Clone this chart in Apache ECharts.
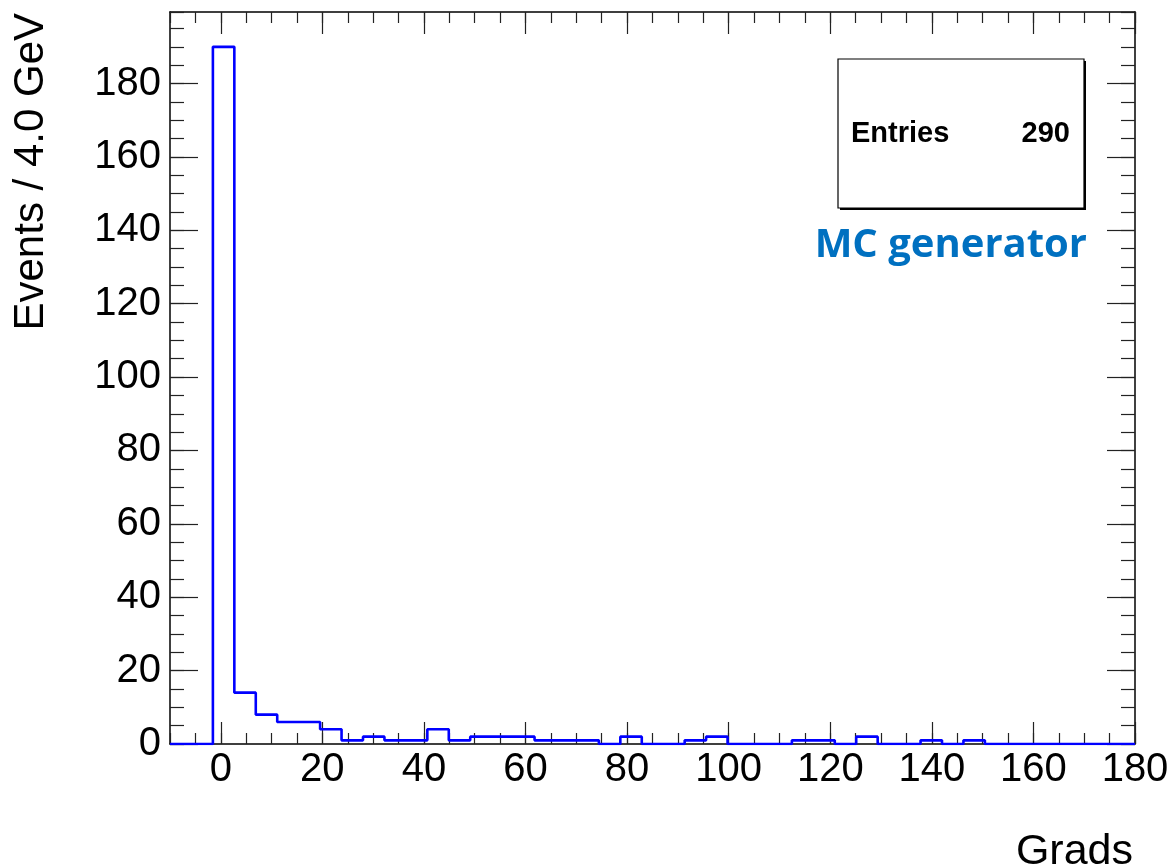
<!DOCTYPE html>
<html>
<head>
<meta charset="utf-8">
<title>Grads</title>
<script src="https://cdn.jsdelivr.net/npm/echarts@6/dist/echarts.min.js"></script>
<style>
  html, body { margin: 0; padding: 0; background: #fff; }
  #chart { width: 1176px; height: 867px; }
</style>
</head>
<body>
<div id="chart"></div>
<script>
// Histogram binning: 45 equal bins spanning the x range
const xMin = -10;
const xMax = 180;
const nBins = 45;
const yMax = 199.5;

// Events per bin
const binCounts = [
  0, 0, 190, 14, 8, 6, 6, 4, 1, 2,
  1, 1, 4, 1, 2, 2, 2, 1, 1, 1,
  0, 2, 0, 0, 1, 2, 0, 0, 0, 1,
  1, 0, 2, 0, 0, 1, 0, 1, 0, 0,
  0, 0, 0, 0, 0
];

const entries = 290;

// Labelled tick positions
const xTickValues = [0, 20, 40, 60, 80, 100, 120, 140, 160, 180];
const yTickValues = [0, 20, 40, 60, 80, 100, 120, 140, 160, 180];
const minorStep = 5;

const xTitle = 'Grads';
const yTitle = 'Events / 4.0 GeV';
const legendText = 'MC generator';

// Step outline: one point per left bin edge, plus the closing right edge
const binWidth = (xMax - xMin) / nBins;
const outline = binCounts.map((c, i) => [xMin + i * binWidth, c]);
outline.push([xMax, binCounts[binCounts.length - 1]]);

const FONT = '"Liberation Sans", Arial, Helvetica, sans-serif';
const tickColor = '#222';

function xAxisDef(position, major, withLabels) {
  return {
    type: 'value', position: position, min: xMin, max: xMax,
    interval: major ? undefined : minorStep,
    axisLine: { show: major, onZero: false, lineStyle: { color: '#000', width: 1.5 } },
    axisTick: major
      ? { show: true, inside: true, length: 22, customValues: xTickValues, lineStyle: { color: tickColor, width: 1.2 } }
      : { show: true, inside: true, length: 11, lineStyle: { color: tickColor, width: 1.2 } },
    axisLabel: withLabels
      ? { show: true, customValues: xTickValues, fontSize: 40, fontFamily: FONT, color: '#000', margin: 6 }
      : { show: false },
    splitLine: { show: false }
  };
}

function yAxisDef(position, major, withLabels) {
  return {
    type: 'value', position: position, min: 0, max: yMax,
    interval: major ? undefined : minorStep,
    axisLine: { show: major, onZero: false, lineStyle: { color: '#000', width: 1.5 } },
    axisTick: major
      ? { show: true, inside: true, length: 28, customValues: yTickValues, lineStyle: { color: tickColor, width: 1.2 } }
      : { show: true, inside: true, length: 14, lineStyle: { color: tickColor, width: 1.2 } },
    axisLabel: withLabels
      ? { show: true, customValues: yTickValues, fontSize: 40, fontFamily: FONT, color: '#000', margin: 9 }
      : { show: false },
    splitLine: { show: false }
  };
}

const chart = echarts.init(document.getElementById('chart'), null, { renderer: 'canvas' });

chart.setOption({
  animation: false,
  backgroundColor: '#fff',
  grid: { left: 170, right: 41, top: 12, bottom: 123, containLabel: false },
  xAxis: [
    xAxisDef('bottom', true, true),
    xAxisDef('bottom', false, false),
    xAxisDef('top', true, false),
    xAxisDef('top', false, false)
  ],
  yAxis: [
    yAxisDef('left', true, true),
    yAxisDef('left', false, false),
    yAxisDef('right', true, false),
    yAxisDef('right', false, false)
  ],
  series: [{
    type: 'line',
    xAxisIndex: 0,
    yAxisIndex: 0,
    step: 'end',
    data: outline,
    symbol: 'none',
    lineStyle: { color: '#0000ff', width: 2.6 },
    z: 5
  }],
  graphic: [
    // axis titles
    {
      type: 'text', x: 31, y: 13, rotation: Math.PI / 2,
      style: { text: yTitle, font: '42px ' + FONT, fill: '#000', align: 'right', verticalAlign: 'middle' }
    },
    {
      type: 'text', x: 1133, y: 852,
      style: { text: xTitle, font: '43px ' + FONT, fill: '#000', align: 'right', verticalAlign: 'middle' }
    },
    // statistics box with drop shadow
    {
      type: 'rect', shape: { x: 840, y: 61, width: 246, height: 149 },
      style: { fill: '#000' }, z: 10
    },
    {
      type: 'rect', shape: { x: 838, y: 59, width: 246, height: 149 },
      style: { fill: '#fff', stroke: '#000', lineWidth: 1.2 }, z: 11
    },
    {
      type: 'text', x: 851, y: 134, z: 12,
      style: { text: 'Entries', font: 'bold 29px ' + FONT, fill: '#000', align: 'left', verticalAlign: 'middle' }
    },
    {
      type: 'text', x: 1070, y: 134, z: 12,
      style: { text: String(entries), font: 'bold 29px ' + FONT, fill: '#000', align: 'right', verticalAlign: 'middle' }
    },
    // legend caption
    {
      type: 'text', x: 1087, y: 246, z: 12,
      style: { text: legendText, font: 'bold 40px "Open Sans", sans-serif', fill: '#0070c0', align: 'right', verticalAlign: 'middle' }
    }
  ]
});
</script>
</body>
</html>
